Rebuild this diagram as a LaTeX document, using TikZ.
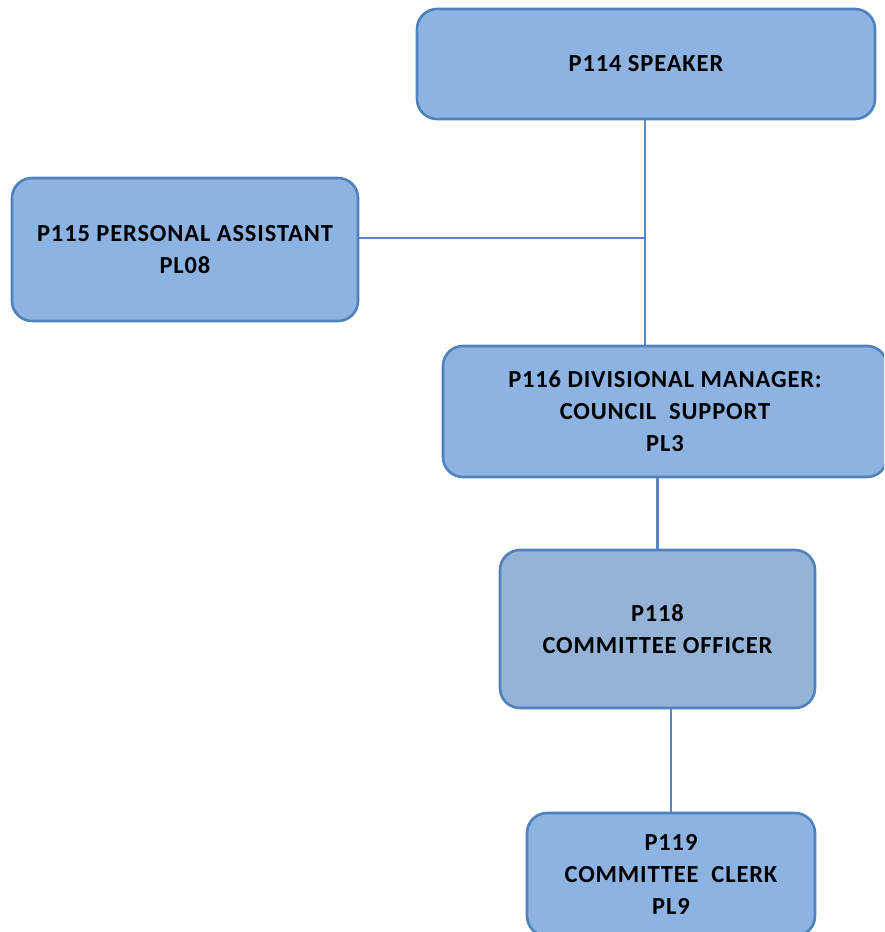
\documentclass[tikz,border=0pt]{standalone}
\usepackage{fontspec}
\setmainfont[LetterSpace=3.5]{Carlito}
\definecolor{boxfill}{HTML}{8DB3E2}
\definecolor{boxfillb}{HTML}{95B3D7}
\definecolor{boxline}{HTML}{4F81BD}
\definecolor{conn}{HTML}{5A85BF}
\begin{document}
\begin{tikzpicture}[x=1pt,y=-1pt,
  orgbox/.style={draw=boxline,line width=2.6pt,fill=boxfill,rounded corners=20pt,
    align=center,inner sep=0pt,font=\fontsize{24.5}{32}\selectfont\bfseries},
  link/.style={draw=conn,line width=2.8pt}]
\useasboundingbox (0,0) rectangle (884,932);
\clip (0,0) rectangle (884,932);
\node[orgbox,minimum width=458pt,minimum height=110pt] (sp) at (646,64) {P114 SPEAKER};
\node[orgbox,minimum width=346pt,minimum height=143pt] (pa) at (185,249.5) {P115 PERSONAL ASSISTANT\\PL08};
\node[orgbox,minimum width=444pt,minimum height=131pt] (dm) at (665,411.5) {P116 DIVISIONAL MANAGER:\\COUNCIL\ \ SUPPORT\\PL3};
\node[orgbox,fill=boxfillb,minimum width=315pt,minimum height=158pt] (co) at (657.5,629) {P118\\COMMITTEE\ OFFICER};
\node[orgbox,minimum width=288pt,minimum height=123pt] (cc) at (671,874.5) {P119\\COMMITTEE\ \ CLERK\\PL9};
\coordinate (j1) at (645,238);
\draw[link] (sp.south -| j1) -- (dm.north -| j1);
\draw[link] (pa.east |- j1) -- (j1);
\draw[link] (co.north) -- (co.north |- dm.south);
\draw[link] (cc.north) -- (cc.north |- co.south);
\end{tikzpicture}
\end{document}
